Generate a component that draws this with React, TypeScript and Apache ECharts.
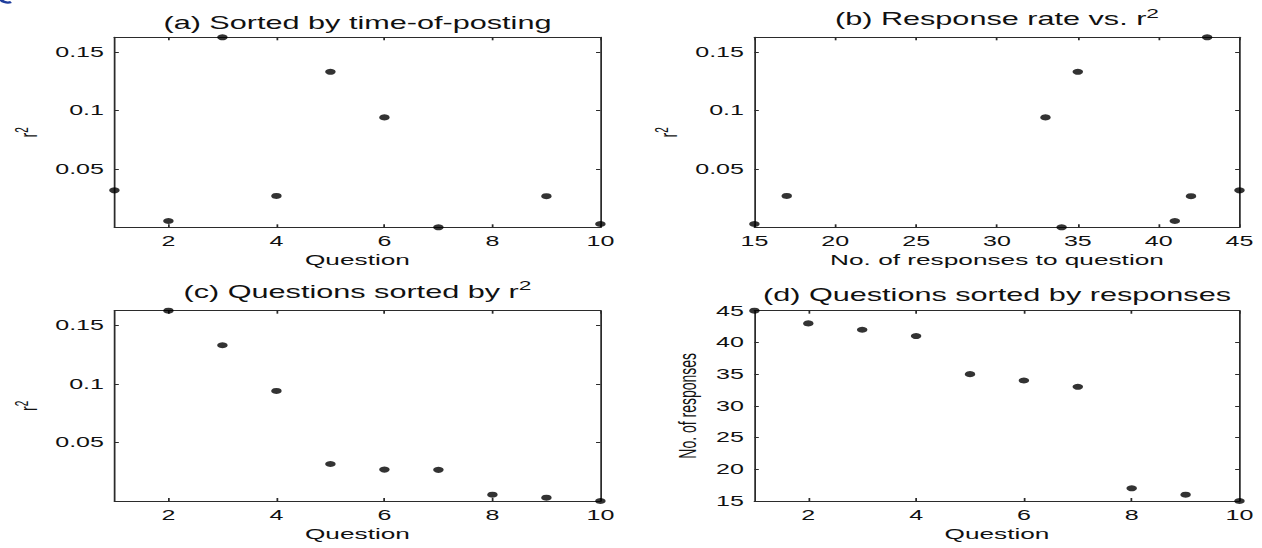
import React, { useEffect, useRef } from "react";
import * as echarts from "echarts";

// ---- data ----
const questions = [1, 2, 3, 4, 5, 6, 7, 8, 9, 10];
const r2ByTime = [0.0316, 0.0054, 0.1625, 0.0268, 0.133, 0.094, 0.0, null, 0.0266, 0.0028];
const responsesByTime = [45, 41, 43, 17, 35, 33, 34, 16, 42, 15];
const r2Sorted = [null, 0.1625, 0.133, 0.094, 0.0316, 0.0268, 0.0266, 0.0054, 0.0028, 0.0];
const responsesSorted = [45, 43, 42, 41, 35, 34, 33, 17, 16, 15];

const questionTicks = [2, 4, 6, 8, 10];
const r2Ticks = [0.05, 0.1, 0.15];
const responseTicks = [15, 20, 25, 30, 35, 40, 45];
const R2_MIN = 0;
const R2_MAX = 0.1625;

const titles = [
  "{m|(a) Sorted by time-of-posting}",
  "{m|(b) Response rate vs. r}{s|2}",
  "{m|(c) Questions sorted by r}{s|2}",
  "{m|(d) Questions sorted by responses}",
];

// ---- layout (internal coordinates; page is stretched horizontally) ----
const STRETCH = 1.75;
const W = 1262 / STRETCH;
const H = 548;
const FONT = "'Liberation Sans', Arial, Helvetica, sans-serif";
const TEXT = "#111";
const LINE = { color: "#2b2b2b", width: 1 };

const grids = [
  { left: 65.4, top: 37.3, width: 277.7, height: 190 },
  { left: 431.1, top: 37.3, width: 277.2, height: 190 },
  { left: 65.4, top: 310.7, width: 277.7, height: 190.3 },
  { left: 431.1, top: 310.7, width: 277.2, height: 190.3 },
];

function axisPair(
  kind: "x" | "y",
  gridIndex: number,
  min: number,
  max: number,
  ticks: number[],
  name?: string,
  nameGap?: number,
  nameTextStyle?: any
) {
  const main: any = {
    gridIndex,
    type: "value",
    min,
    max,
    position: kind === "x" ? "bottom" : "left",
    axisLine: { show: true, onZero: false, lineStyle: LINE },
    axisTick: {
      show: true,
      inside: true,
      length: kind === "x" ? 3 : 2.5,
      customValues: ticks,
      lineStyle: LINE,
    },
    axisLabel: {
      show: true,
      customValues: ticks,
      fontSize: 14.3,
      fontFamily: FONT,
      color: TEXT,
      margin: kind === "x" ? 7 : 6,
    },
    splitLine: { show: false },
    name,
    nameLocation: "middle",
    nameGap,
    nameTextStyle,
  };
  const mirror: any = {
    ...main,
    position: kind === "x" ? "top" : "right",
    axisLabel: { show: false },
    name: undefined,
  };
  return [main, mirror];
}

const xNameStyle = { fontSize: 15, fontFamily: FONT, color: TEXT };
const r2NameStyle = {
  fontFamily: FONT,
  color: TEXT,
  rich: {
    m: { fontSize: 14, fontFamily: FONT, color: TEXT },
    s: { fontSize: 10, fontFamily: FONT, color: TEXT, padding: [0, 0, 8, 0] },
  },
};
const respNameStyle = { fontSize: 14, fontFamily: FONT, color: TEXT };

export default function App() {
  const ref = useRef<HTMLDivElement>(null);

  useEffect(() => {
    if (!ref.current) return;
    const chart = echarts.init(ref.current, undefined, { renderer: "svg" });

    const dataA = questions
      .map((q, i) => [q, r2ByTime[i]])
      .filter((d) => d[1] !== null);
    const dataB = responsesByTime
      .map((r, i) => [r, r2ByTime[i]])
      .filter((d) => d[1] !== null);
    const dataC = questions
      .map((q, i) => [q, r2Sorted[i]])
      .filter((d) => d[1] !== null);
    const dataD = questions.map((q, i) => [q, responsesSorted[i]]);

    const xAxis = [
      ...axisPair("x", 0, 1, 10, questionTicks, "Question", 25.5, xNameStyle),
      ...axisPair("x", 1, 15, 45, responseTicks, "No. of responses to question", 25.5, xNameStyle),
      ...axisPair("x", 2, 1, 10, questionTicks, "Question", 25.5, xNameStyle),
      ...axisPair("x", 3, 1, 10, questionTicks, "Question", 25.5, xNameStyle),
    ];
    const yAxis = [
      ...axisPair("y", 0, R2_MIN, R2_MAX, r2Ticks, "{m|r}{s|2}", 40, r2NameStyle),
      ...axisPair("y", 1, R2_MIN, R2_MAX, r2Ticks, "{m|r}{s|2}", 40, r2NameStyle),
      ...axisPair("y", 2, R2_MIN, R2_MAX, r2Ticks, "{m|r}{s|2}", 40, r2NameStyle),
      ...axisPair("y", 3, 15, 45, responseTicks, "No. of responses", 31.5, respNameStyle),
    ];

    const mk = (i: number, data: any[]) => ({
      type: "scatter",
      xAxisIndex: 2 * i,
      yAxisIndex: 2 * i,
      data,
      symbol: "circle",
      symbolSize: 6,
      clip: false,
      itemStyle: { color: "#000" },
      silent: true,
    });

    const titleTexts: any[] = titles.map((t, i) => {
      const g = grids[i];
      return {
        type: "text",
        x: g.left + g.width / 2,
        y: i < 2 ? 31.5 : 304,
        silent: true,
        style: {
          text: t,
          align: "center",
          verticalAlign: "bottom",
          fill: TEXT,
          fontFamily: FONT,
          fontSize: 17.5,
          rich: {
            m: { fontSize: 17.5, fontFamily: FONT, fill: TEXT },
            s: { fontSize: 13, fontFamily: FONT, fill: TEXT, padding: [0, 0, 12, 0] },
          },
        },
      };
    });

    // small cropped blue mark in the top-left corner of the reference
    titleTexts.push({
      type: "arc",
      silent: true,
      shape: { cx: 4.5, cy: -1.5, r: 4, startAngle: Math.PI * 0.35, endAngle: Math.PI * 0.95 },
      style: { stroke: "#1f3d9c", lineWidth: 2.2, fill: "none" },
    });

    chart.setOption({
      animation: false,
      backgroundColor: "#fff",
      grid: grids.map((g) => ({ ...g, containLabel: false })),
      xAxis,
      yAxis,
      series: [mk(0, dataA), mk(1, dataB), mk(2, dataC), mk(3, dataD)],
      graphic: titleTexts,
    });

    return () => chart.dispose();
  }, []);

  return (
    <div
      ref={ref}
      style={{
        position: "absolute",
        left: 0,
        top: 0,
        width: W,
        height: H,
        transform: `scaleX(${STRETCH})`,
        transformOrigin: "0 0",
        background: "#fff",
      }}
    />
  );
}
